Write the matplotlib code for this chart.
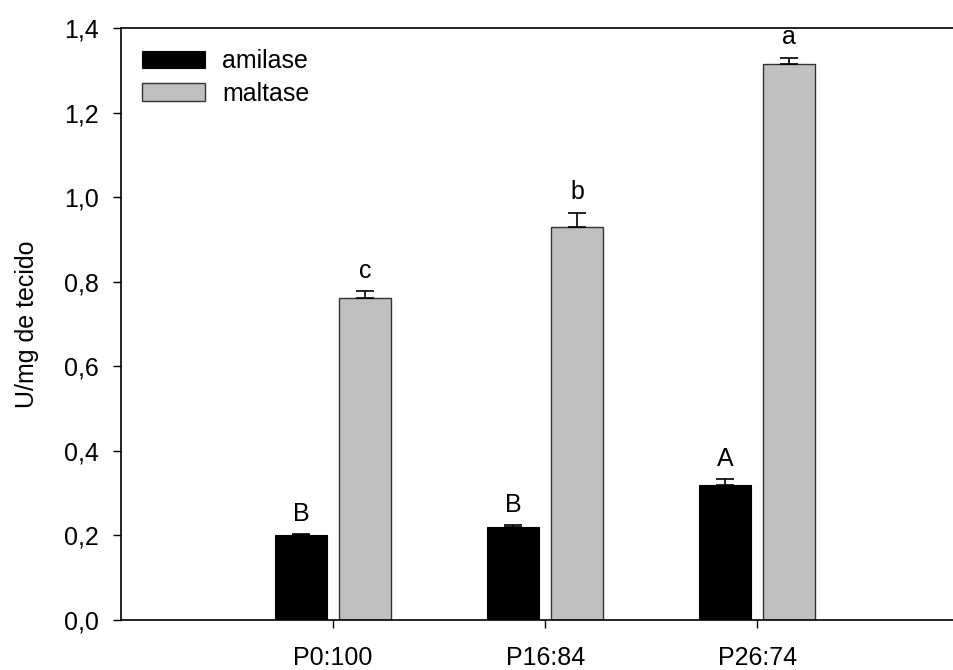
import numpy as np
import matplotlib.pyplot as plt

plt.rcParams['font.family'] = ['Liberation Sans', 'DejaVu Sans']

groups = ['P0:100', 'P16:84', 'P26:74']
amilase = [0.200, 0.220, 0.320]
amilase_err = [0.003, 0.005, 0.013]
maltase = [0.762, 0.930, 1.314]
maltase_err = [0.015, 0.033, 0.016]
amilase_letters = ['B', 'B', 'A']
maltase_letters = ['c', 'b', 'a']

fig = plt.figure(figsize=(9.54, 6.70), dpi=100)
ax = fig.add_axes([0.127, 0.0746, 0.889, 0.8836])

x = np.arange(len(groups))
w = 0.245
off = 0.151
fs = 18

ax.bar(x - off, amilase, w, color='black', edgecolor='black', linewidth=0.8, label='amilase')
ax.bar(x + off, maltase, w, color='#c0c0c0', edgecolor='#333333', linewidth=1.0, label='maltase')
ax.errorbar(x - off, amilase, yerr=[np.zeros(3), amilase_err], fmt='none', ecolor='black',
            elinewidth=1.2, capsize=6.5, capthick=1.2)
ax.errorbar(x + off, maltase, yerr=[np.zeros(3), maltase_err], fmt='none', ecolor='black',
            elinewidth=1.2, capsize=6.5, capthick=1.2)

# letras de significancia
for xi, v, e, t in zip(x - off, amilase, amilase_err, amilase_letters):
    ax.annotate(t, (xi, v + e), xytext=(0, 6), textcoords='offset points', ha='center', va='bottom', fontsize=fs)
for xi, v, e, t in zip(x + off, maltase, maltase_err, maltase_letters):
    ax.annotate(t, (xi, v + e), xytext=(0, 6), textcoords='offset points', ha='center', va='bottom', fontsize=fs)

ax.set_xlim(-1, 3)
ax.set_ylim(0, 1.4)
ax.set_xticks(x)
ax.set_xticklabels(groups)
ax.set_yticks(np.arange(0, 1.41, 0.2))
ax.set_yticklabels([f'{v:.1f}'.replace('.', ',') for v in np.arange(0, 1.41, 0.2)])
ax.tick_params(axis='both', direction='out', length=6, width=1.0, labelsize=fs)
ax.tick_params(axis='x', pad=13)
ax.tick_params(axis='y', pad=10)
for s in ax.spines.values():
    s.set_linewidth(1.2)
ax.set_ylabel('U/mg de tecido', fontsize=fs, labelpad=18)

ax.legend(loc='upper left', frameon=False, fontsize=fs, handlelength=2.5, handleheight=0.72,
          handletextpad=0.68, labelspacing=0.35, borderaxespad=0.45)

plt.savefig('out.png', dpi=100)
